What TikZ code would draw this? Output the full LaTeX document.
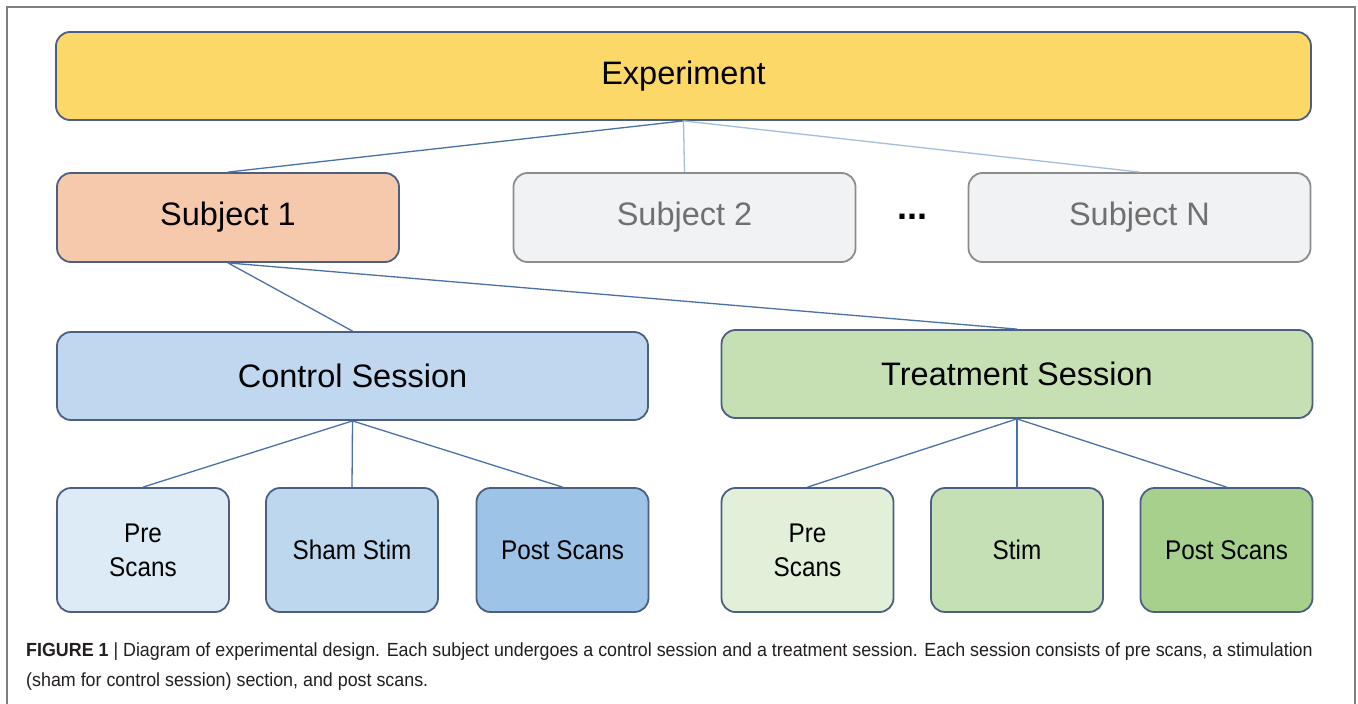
\documentclass[tikz,border=0pt]{standalone}
\usepackage{fontspec}
\setmainfont{Liberation Sans}
\newfontfamily\boxfont{Liberation Sans}
\newfontfamily\leaffont{Liberation Sans}[FakeStretch=0.9]
\newfontfamily\capfont{Liberation Sans}[FakeStretch=0.94]
\usepackage{tikz}
\usetikzlibrary{positioning, calc}

\definecolor{frameGray}{HTML}{7F7F7F}
\definecolor{boxEdge}{HTML}{4A5F83}
\definecolor{expFill}{HTML}{FCD869}
\definecolor{subFill}{HTML}{F7C9AC}
\definecolor{otherFill}{HTML}{F1F2F4}
\definecolor{otherEdge}{HTML}{8C8C8C}
\definecolor{otherText}{HTML}{707070}
\definecolor{ctrlFill}{HTML}{BFD8EF}
\definecolor{ctrlA}{HTML}{DDEBF7}
\definecolor{ctrlB}{HTML}{BDD7EE}
\definecolor{ctrlC}{HTML}{9DC3E6}
\definecolor{treatFill}{HTML}{C6E0B4}
\definecolor{treatA}{HTML}{E2EFD9}
\definecolor{treatB}{HTML}{C5E0B4}
\definecolor{treatC}{HTML}{A8D08D}
\definecolor{linkDark}{HTML}{4C70A8}
\definecolor{linkLight}{HTML}{A3BEDD}
\definecolor{capText}{HTML}{231F20}

\tikzstyle{block} = [
  rectangle, draw=boxEdge, line width=1.8pt,
  rounded corners=14pt, text centered, inner sep=0pt,
  font=\boxfont\fontsize{32.5}{38}\selectfont
]
\tikzstyle{subject} = [block, minimum width=342pt, minimum height=89pt]
\tikzstyle{session} = [block, minimum width=591pt, minimum height=88pt]
\tikzstyle{leaf} = [
  block, minimum width=172pt, minimum height=124pt, align=center,
  font=\leaffont\fontsize{27}{34}\selectfont
]
\tikzstyle{link} = [draw=linkDark, line width=1.3pt]

\begin{document}
\begin{tikzpicture}[x=1pt, y=-1pt]

  \useasboundingbox (0,0) rectangle (1358,704);
  \fill[white] (0,0) rectangle (1358,704);

  % Frame
  \draw[frameGray, line width=1.6pt] (7,704) -- (7,7) -- (1355,7) -- (1355,704);

  % Experiment
  \node[block, fill=expFill, minimum width=1255pt, minimum height=88pt]
    (exp) at (683.5, 76) {Experiment};

  % Subjects
  \node[subject, fill=subFill] (sub1) at (228, 217.5) {Subject 1};
  \node[subject, fill=otherFill, draw=otherEdge, text=otherText]
    (sub2) at (684.5, 217.5) {Subject 2};
  \node[subject, fill=otherFill, draw=otherEdge, text=otherText]
    (subN) at (1139.5, 217.5) {Subject N};
  \node[font=\boxfont\bfseries\fontsize{36}{40}\selectfont, inner sep=0pt]
    (dots) at (912, 217) {...};

  % Sessions
  \node[session, fill=ctrlFill] (ctrl) at (352.5, 376) {Control Session};
  \node[session, fill=treatFill] (treat) at (1017, 374) {Treatment Session};

  % Control leaves
  \node[leaf, fill=ctrlA] (cpre) at (143, 550) {Pre\\Scans};
  \node[leaf, fill=ctrlB] (csham) at (352, 550) {Sham Stim};
  \node[leaf, fill=ctrlC] (cpost) at (562.5, 550) {Post Scans};

  % Treatment leaves
  \node[leaf, fill=treatA] (tpre) at (807.5, 550) {Pre\\Scans};
  \node[leaf, fill=treatB] (tstim) at (1017, 550) {Stim};
  \node[leaf, fill=treatC] (tpost) at (1226.5, 550) {Post Scans};

  % Connections
  \draw[link] (exp.south) -- (sub1.north);
  \draw[link, draw=linkLight] (exp.south) -- (sub2.north);
  \draw[link, draw=linkLight] (exp.south) -- (subN.north);

  \draw[link] (sub1.south) -- (ctrl.north);
  \draw[link] (sub1.south) -- (treat.north);

  \draw[link] (ctrl.south) -- (cpre.north);
  \draw[link] (ctrl.south) -- (csham.north);
  \draw[link] (ctrl.south) -- (cpost.north);

  \draw[link] (treat.south) -- (tpre.north);
  \draw[link] (treat.south) -- (tstim.north);
  \draw[link] (treat.south) -- (tpost.north);

  % Caption
  \node[anchor=north west, align=left, inner sep=0pt, text=capText,
        font=\capfont\fontsize{19}{30}\selectfont]
    (caption) at (26, 643) {\textbf{FIGURE 1} | Diagram of experimental design. Each subject undergoes a control session and a treatment session. Each session consists of pre scans, a stimulation\\(sham for control session) section, and post scans.};

\end{tikzpicture}
\end{document}
